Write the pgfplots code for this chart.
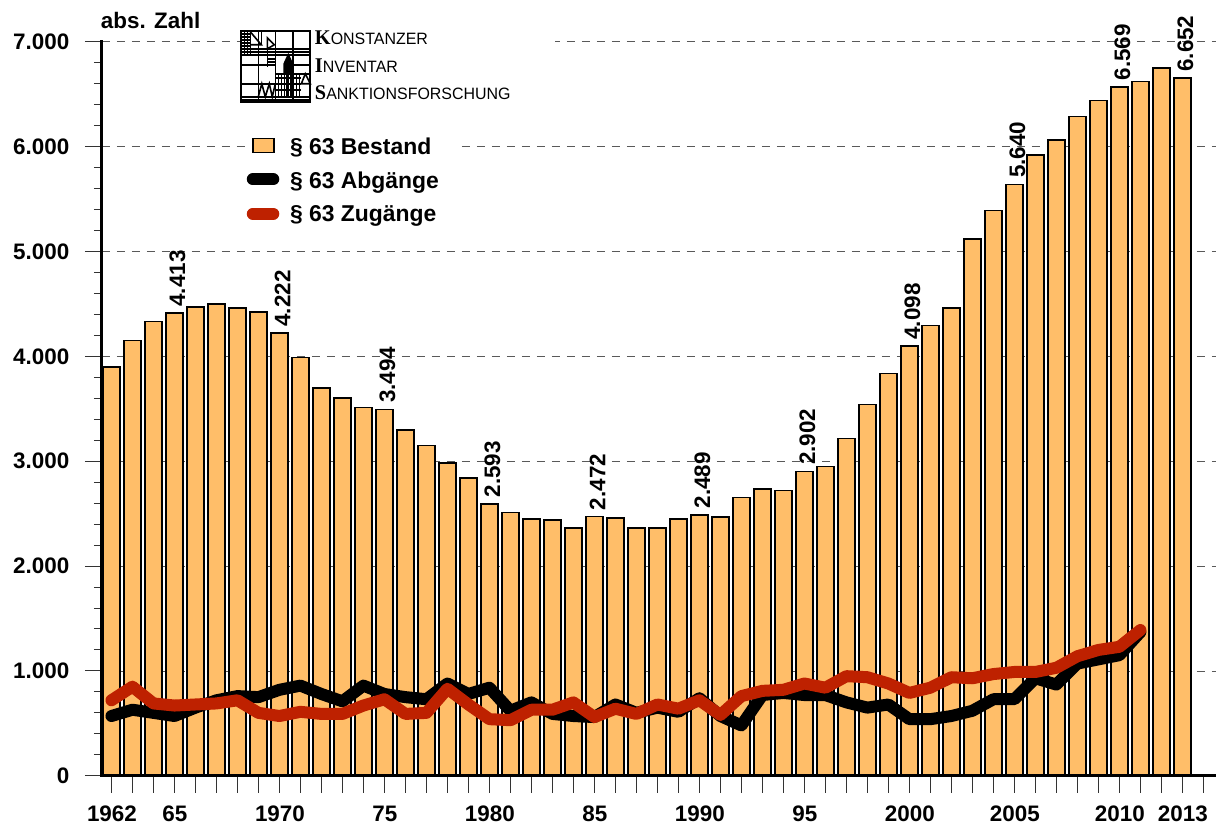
\documentclass[border=0pt]{standalone}
\usepackage{pgfplots}
\pgfplotsset{compat=1.18}
\usepackage{pgfplotstable}
\usepackage{fontspec}
\setmainfont{Liberation Sans}
\newfontfamily\logoserif{Liberation Serif}
\definecolor{barfill}{RGB}{255,190,105}
\definecolor{zured}{RGB}{190,33,0}
\pgfplotstableread{
year bestand
1962 3900
1963 4150
1964 4330
1965 4413
1966 4470
1967 4500
1968 4460
1969 4420
1970 4222
1971 3990
1972 3700
1973 3600
1974 3510
1975 3494
1976 3300
1977 3150
1978 2980
1979 2840
1980 2593
1981 2510
1982 2450
1983 2440
1984 2360
1985 2472
1986 2460
1987 2360
1988 2360
1989 2450
1990 2489
1991 2470
1992 2655
1993 2735
1994 2720
1995 2902
1996 2950
1997 3215
1998 3540
1999 3835
2000 4098
2001 4295
2002 4460
2003 5120
2004 5390
2005 5640
2006 5920
2007 6060
2008 6285
2009 6440
2010 6569
2011 6620
2012 6750
2013 6652
}\bestandtab
\pgfplotstableread{
year ab zu
1962 570 720
1963 630 850
1964 600 690
1965 570 670
1966 650 680
1967 720 690
1968 760 720
1969 750 600
1970 820 570
1971 860 610
1972 780 590
1973 710 590
1974 860 670
1975 780 730
1976 750 590
1977 730 600
1978 880 830
1979 780 680
1980 840 540
1981 620 530
1982 700 630
1983 590 630
1984 570 700
1985 560 560
1986 680 640
1987 600 590
1988 650 680
1989 610 640
1990 740 720
1991 570 580
1992 480 760
1993 770 810
1994 790 820
1995 770 880
1996 770 840
1997 700 950
1998 650 940
1999 680 880
2000 540 790
2001 540 840
2002 570 940
2003 620 930
2004 730 970
2005 730 990
2006 930 990
2007 870 1030
2008 1070 1140
2009 1110 1200
2010 1150 1230
2011 1370 1390
}\flowtab
\begin{document}
\begin{tikzpicture}[x=1bp,y=1bp]
\useasboundingbox (-101.8,-49.2) rectangle (1114.2,775.8);
\begin{axis}[
  at={(0,0)},anchor=south west,
  scale only axis,
  width=1114.2bp,height=734.1bp,
  xmin=1961.54,xmax=2014.6,
  ymin=0,ymax=7000,
  axis lines=left,
  axis line style={line width=3bp,-},
  clip=false,
  font=\fontsize{22.5}{26}\selectfont\bfseries,
  ytick={0,1000,...,7000},
  yticklabels={0,1.000,2.000,3.000,4.000,5.000,6.000,7.000},
  minor y tick num=4,
  ymajorgrids,
  grid style={dash pattern=on 8bp off 7bp,line width=0.8bp,color=black!65},
  xtick={1962,1963,...,2014},
  xticklabels={1962,,,65,,,,,1970,,,,,75,,,,,1980,,,,,85,,,,,1990,,,,,95,,,,,2000,,,,,2005,,,,,2010,,,2013,},
  tick style={color=black!80,line width=1bp},
  tick align=outside,
  major tick length=17bp,
  minor tick length=8bp,
  xticklabel style={yshift=-10bp,xshift=0.5bp},
  yticklabel style={xshift=-12bp},
  /pgf/number format/assume math mode=true,
]
\addplot[ybar,bar width=17.2bp,bar shift=0pt,fill=barfill,draw=black,line width=1.6bp] table[x=year,y=bestand] {\bestandtab};
\addplot[line width=12bp,black,line join=round,line cap=round,no marks] table[x=year,y=ab] {\flowtab};
\addplot[line width=12bp,zured,line join=round,line cap=round,no marks] table[x=year,y=zu] {\flowtab};
\addplot[only marks,mark=none,nodes near coords,point meta=explicit symbolic,
  nodes near coords style={rotate=90,anchor=west,xshift=3bp,yshift=-3bp,font=\fontsize{22.5}{26}\selectfont\bfseries}]
  table[x=year,y=val,meta=lab] {
year val lab
1965 4413 4.413
1970 4222 4.222
1975 3494 3.494
1980 2593 2.593
1985 2472 2.472
1990 2489 2.489
1995 2902 2.902
2000 4098 4.098
2005 5640 5.640
2010 6569 6.569
2013 6652 6.652
};
\end{axis}
% axis lines over the bars
\draw[black,line width=3bp] (0,735.5) -- (0,-1.5);
\draw[black,line width=3bp] (-1.5,0) -- (1114.2,0);
% cover grid behind logo and legend
\fill[white] (138,690) rectangle (453,745);
\fill[white] (146,600) rectangle (358,645);
\node[anchor=west,inner sep=0pt,font=\fontsize{22.5}{26}\selectfont\bfseries] at (-1,755) {abs. Zahl};
% logo
\begin{scope}[shift={(139.5,674)},line width=1.6bp]
\draw[line width=1.8bp] (0,0) rectangle (69,70.5);
\foreach \x in {17,34,51.5} \draw (\x,0) -- (\x,70.5);
\foreach \y in {2,5,53,50,47} \draw (0,\y) -- (69,\y);
\draw (0,37) -- (34,37) (52,37) -- (69,37);
\draw (0,18) -- (34,18);
\draw (34,28) -- (69,28);
\foreach \y in {56,59,62,65,68} \draw (0,\y) -- (9,\y);
\foreach \x in {3,6,9} \draw (\x,47) -- (\x,70.5);
\draw (9,70) -- (20,57) -- (9,57);
\draw (20,70) -- (20,57);
\draw (26,64) -- (33,57) -- (26,53) -- cycle;
\foreach \y in {37,40,43} \draw (26,\y) -- (34,\y);
\draw (26,35) -- (26,53);
\foreach \x in {37,40,43,46,49,52,55,58} \draw (\x,5) -- (\x,28);
\foreach \y in {12,18,24} \draw (34,\y) -- (60,\y);
\fill (45,5) rectangle (47.5,28);
\fill (50,5) rectangle (53,28);
\fill (42,28) -- (42,38) -- (47,49) -- (52,38) -- (52,28) -- cycle;
\draw (17,5) -- (20.5,18) -- (24,5) -- (28,18) -- (31,5) -- (34,18);
\draw (60,18) -- (64,28) -- (69,18) -- cycle;
\end{scope}
\node[anchor=west,inner sep=0pt,xscale=0.97] at (213,737.8) {{\logoserif\fontsize{21}{24}\selectfont\bfseries K}{\fontsize{16.5}{20}\selectfont\mdseries ONSTANZER}};
\node[anchor=west,inner sep=0pt,xscale=0.97] at (213,709.8) {{\logoserif\fontsize{21}{24}\selectfont\bfseries I}{\fontsize{16.5}{20}\selectfont\mdseries NVENTAR}};
\node[anchor=west,inner sep=0pt,xscale=0.97] at (213,682.8) {{\logoserif\fontsize{21}{24}\selectfont\bfseries S}{\fontsize{16.5}{20}\selectfont\mdseries ANKTIONSFORSCHUNG}};
% legend
\draw[fill=barfill,draw=black,line width=1.4bp] (151,623.5) rectangle (172,637.5);
\draw[black,line width=12bp,line cap=round] (151,596.5) -- (171.5,596.5);
\draw[zured,line width=12bp,line cap=round] (151,562) -- (171.5,562);
\node[anchor=west,inner sep=0pt,font=\fontsize{23}{26}\selectfont\bfseries] at (188,628) {§ 63 Bestand};
\node[anchor=west,inner sep=0pt,font=\fontsize{23}{26}\selectfont\bfseries] at (188,593.5) {§ 63 Abgänge};
\node[anchor=west,inner sep=0pt,font=\fontsize{23}{26}\selectfont\bfseries] at (188,559.5) {§ 63 Zugänge};
\end{tikzpicture}
\end{document}
